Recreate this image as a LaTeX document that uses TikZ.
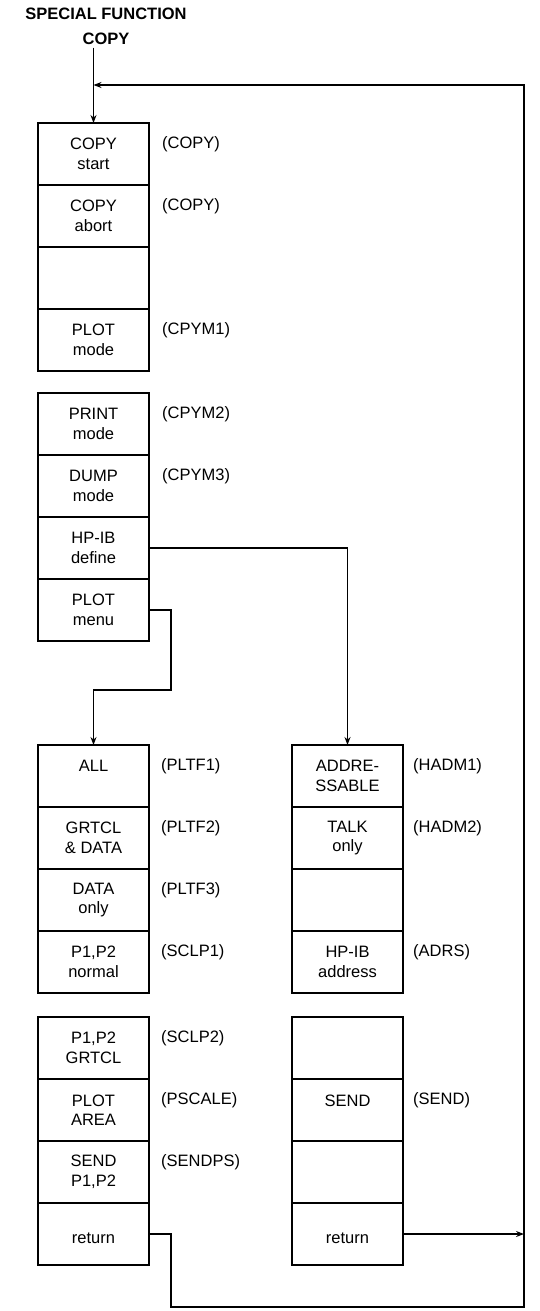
\documentclass[tikz,border=0pt]{standalone}
\usepackage{fontspec}
\setmainfont{Liberation Sans}
\usetikzlibrary{arrows.meta,positioning}

\begin{document}
\begin{tikzpicture}[x=1pt,y=1pt,>={Stealth[length=8pt,width=6pt]},
  key/.style={draw,line width=1.2pt,minimum width=111pt,minimum height=62pt,inner sep=0pt,outer sep=0pt,align=center,font=\fontsize{16.5}{19.5}\selectfont},
  tag/.style={anchor=west,inner sep=0pt,font=\fontsize{16.5}{19.5}\selectfont},
  link/.style={line width=1.2pt}]
\useasboundingbox (0,0) rectangle (539,-1311);

\node[align=center,inner sep=0pt,font=\fontsize{16.5}{25}\bfseries] (title) at (106,-26) {SPECIAL FUNCTION\\COPY};

% first menu page
\node[key,anchor=north] (copystart) at (93.5,-123) {COPY\\start};
\node[key,below=0pt of copystart] (copyabort) {COPY\\abort};
\node[key,below=0pt of copyabort] (blanka) {};
\node[key,below=0pt of blanka] (plotmode) {PLOT\\mode};

% second menu page
\node[key,anchor=north] (printmode) at (93.5,-393) {PRINT\\mode};
\node[key,below=0pt of printmode] (dumpmode) {DUMP\\mode};
\node[key,below=0pt of dumpmode] (hpibdefine) {HP-IB\\define};
\node[key,below=0pt of hpibdefine] (plotmenu) {PLOT\\menu};

% plot menu
\node[key,anchor=north] (all) at (93.5,-745) {ALL\\\mbox{}};
\node[key,below=0pt of all] (grtcldata) {GRTCL\\\& DATA};
\node[key,below=0pt of grtcldata] (dataonly) {DATA\\only};
\node[key,below=0pt of dataonly] (pnormal) {P1,P2\\normal};
\node[key,anchor=north] (pgrtcl) at (93.5,-1017) {P1,P2\\GRTCL};
\node[key,below=0pt of pgrtcl] (plotarea) {PLOT\\AREA};
\node[key,below=0pt of plotarea] (sendp) {SEND\\P1,P2};
\node[key,below=0pt of sendp] (retl) {\mbox{}\\return};

% HP-IB menu
\node[key,anchor=north] (addressable) at (347.5,-745) {ADDRE-\\SSABLE};
\node[key,below=0pt of addressable] (talkonly) {TALK\\only};
\node[key,below=0pt of talkonly] (blankb) {};
\node[key,below=0pt of blankb] (hpibaddr) {HP-IB\\address};
\node[key,anchor=north] (blankc) at (347.5,-1017) {};
\node[key,below=0pt of blankc] (send) {SEND\\\mbox{}};
\node[key,below=0pt of send] (blankd) {};
\node[key,below=0pt of blankd] (retr) {\mbox{}\\return};

% mnemonics
\node[tag] (copystart_t) at ([xshift=13pt,yshift=9.5pt]copystart.east) {(COPY)};
\node[tag] (copyabort_t) at ([xshift=13pt,yshift=9.5pt]copyabort.east) {(COPY)};
\node[tag] (plotmode_t) at ([xshift=13pt,yshift=9.5pt]plotmode.east) {(CPYM1)};
\node[tag] (printmode_t) at ([xshift=13pt,yshift=9.5pt]printmode.east) {(CPYM2)};
\node[tag] (dumpmode_t) at ([xshift=13pt,yshift=9.5pt]dumpmode.east) {(CPYM3)};
\node[tag] (all_t) at ([xshift=12pt,yshift=9.5pt]all.east) {(PLTF1)};
\node[tag] (grtcldata_t) at ([xshift=12pt,yshift=9.5pt]grtcldata.east) {(PLTF2)};
\node[tag] (dataonly_t) at ([xshift=12pt,yshift=9.5pt]dataonly.east) {(PLTF3)};
\node[tag] (pnormal_t) at ([xshift=12pt,yshift=9.5pt]pnormal.east) {(SCLP1)};
\node[tag] (pgrtcl_t) at ([xshift=12pt,yshift=9.5pt]pgrtcl.east) {(SCLP2)};
\node[tag] (plotarea_t) at ([xshift=12pt,yshift=9.5pt]plotarea.east) {(PSCALE)};
\node[tag] (sendp_t) at ([xshift=12pt,yshift=9.5pt]sendp.east) {(SENDPS)};
\node[tag] (addressable_t) at ([xshift=10pt,yshift=9.5pt]addressable.east) {(HADM1)};
\node[tag] (talkonly_t) at ([xshift=10pt,yshift=9.5pt]talkonly.east) {(HADM2)};
\node[tag] (hpibaddr_t) at ([xshift=10pt,yshift=9.5pt]hpibaddr.east) {(ADRS)};
\node[tag] (send_t) at ([xshift=10pt,yshift=9.5pt]send.east) {(SEND)};

% connectors
\coordinate (entrytop) at ([yshift=-3pt]copystart.north |- title.south);
\coordinate (retrow) at (524,-85);
\coordinate (retcorner) at (524,-1307);
\coordinate (merge) at (copystart.north |- retrow);
\coordinate (menubend) at ([xshift=22pt]plotmenu.east);
\coordinate (menudrop) at ([yshift=-80pt]menubend);
\coordinate (retbend) at ([xshift=22pt]retl.east);

\draw[link,->] (entrytop) -- (copystart.north);
\draw[link,->] (hpibdefine.east) -| (addressable.north);
\draw[link,->] (plotmenu.east) -- (menubend) -- (menudrop) -| (all.north);
\draw[link,->] (retl.east) -- (retbend) |- (retcorner) -- (retrow) -- (merge);
\draw[link,->] (retr.east) -- (retr.east -| retrow);
\end{tikzpicture}
\end{document}
